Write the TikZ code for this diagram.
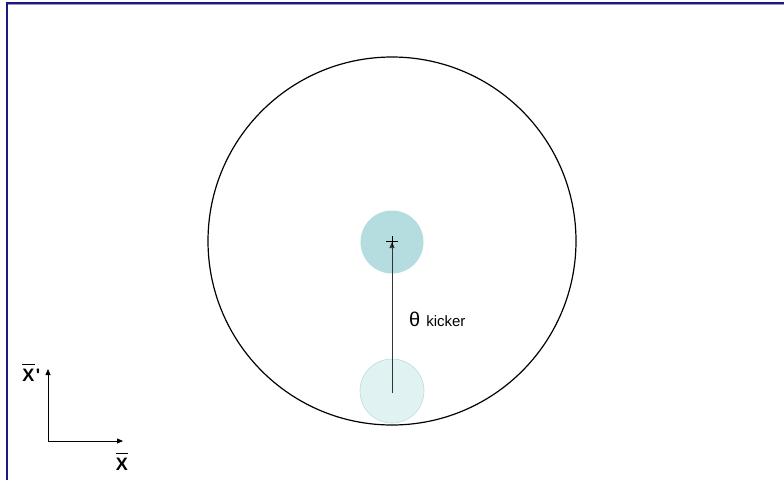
\documentclass[tikz,border=0pt]{standalone}
\usepackage{fontspec}
\setmainfont{Liberation Sans}
\usetikzlibrary{arrows.meta}
\definecolor{frame}{HTML}{1A1A80}
\definecolor{beamA}{HTML}{B5DCDF}
\definecolor{beamB}{HTML}{E1F2F2}
\definecolor{beamBedge}{HTML}{B9DDDF}
\tikzset{
  ax/.style={draw=black, line width=0.8pt, -{Triangle[length=6pt,width=5pt]}},
  lbl/.style={inner sep=0pt, font=\fontsize{18}{18}\selectfont\bfseries},
  bar/.style={draw=black, line width=1.1pt}
}
\begin{document}
\begin{tikzpicture}[x=1pt,y=-1pt]
\useasboundingbox (0,0) rectangle (784,480);
\fill[white] (0,0) rectangle (784,480);
% frame
\draw[frame!45, line width=1pt] (8,4.8) -- (784,4.8);
\draw[frame, line width=1.8pt] (7,480) -- (7,3) -- (784,3);
% big circle
\node[circle, draw=black, line width=1.2pt, minimum size=368pt, inner sep=0pt] (big) at (392,241) {};
% beams
\node[circle, fill=beamA, minimum size=63pt, inner sep=0pt] (up) at (392,242) {};
\node[circle, fill=beamB, draw=beamBedge, line width=0.6pt, minimum size=64pt, inner sep=0pt] (low) at (392,391) {};
\coordinate (start) at (392,393);
\coordinate (tip) at (392,242);
\draw[ax, line width=0.7pt, draw=black!80] (start) -- (tip);
\draw[black, line width=0.8pt] (386,241.5) -- (398,241.5);
\draw[black, line width=0.8pt] (392,236) -- (392,247);
\node[anchor=base west, inner sep=0pt] (theta) at (409,326) {\fontsize{20}{20}\selectfont θ\hspace{6pt}\fontsize{15}{15}\selectfont kicker};
% axes
\coordinate (o) at (48,441);
\coordinate (yend) at (48,369);
\coordinate (xend) at (123,441);
\draw[ax] (o) -- (yend);
\draw[ax] (o) -- (xend);
\node[lbl, anchor=base] (xp) at (28.5,381) {X};
\node[lbl, anchor=base west] (pr) at (xp.base east) {\hspace{1pt}\textquotesingle};
\draw[bar] ([yshift=4pt]xp.north west) -- ([yshift=4pt]xp.north east);
\node[lbl, anchor=base] (x) at (122,470) {X};
\draw[bar] ([yshift=4pt]x.north west) -- ([yshift=4pt]x.north east);
\end{tikzpicture}
\end{document}
